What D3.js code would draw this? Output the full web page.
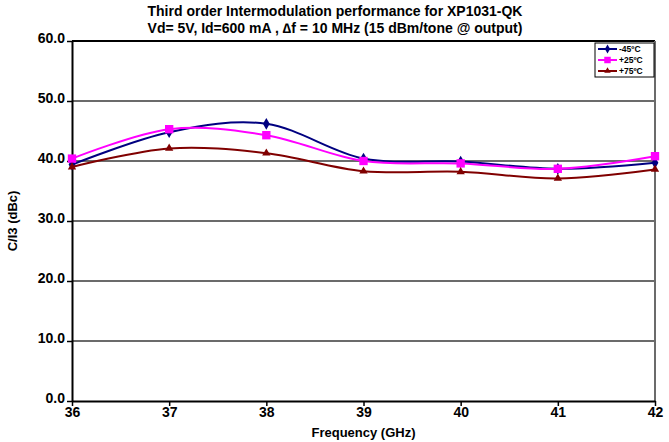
<!DOCTYPE html>
<html>
<head>
<meta charset="utf-8">
<script src="https://cdn.jsdelivr.net/npm/d3@7/dist/d3.min.js"></script>
<style>
  body { margin: 0; background: #fff; }
  text { font-family: "Liberation Sans", Arial, sans-serif; font-weight: bold; }
</style>
</head>
<body>
<svg width="669" height="442"></svg>
<script>
// data
var freqs = [36, 37, 38, 39, 40, 41, 42];
var tempLabels = ["-45ºC", "+25ºC", "+75ºC"];
var minus45 = [39.4, 44.8, 46.2, 40.4, 39.9, 38.7, 39.7];
var plus25 = [40.4, 45.3, 44.3, 40.0, 39.6, 38.7, 40.8];
var plus75 = [39.0, 42.1, 41.3, 38.3, 38.2, 37.1, 38.6];
var yTicks = [0, 10, 20, 30, 40, 50, 60];

var series = [
  { name: tempLabels[0], values: minus45, color: "#000080", symbol: d3.symbolDiamond, size: 40 },
  { name: tempLabels[1], values: plus25, color: "#ff00ff", symbol: d3.symbolSquare, size: 70 },
  { name: tempLabels[2], values: plus75, color: "#800000", symbol: d3.symbolTriangle, size: 30 }
];

var margin = {top: 41, right: 14, bottom: 41, left: 72};
var svg = d3.select("svg");
var width = +svg.attr("width") - margin.left - margin.right,
    height = +svg.attr("height") - margin.top - margin.bottom;

var g = svg.append("g").attr("transform", "translate(" + margin.left + "," + margin.top + ")");

var x = d3.scaleLinear().domain([36, 42]).range([0, width]);
var y = d3.scaleLinear().domain([0, 60]).range([height, 0]);

// gridlines
g.selectAll(".grid")
  .data(yTicks.filter(function(d) { return d > 0 && d < 60; }))
  .enter().append("line")
  .attr("x1", 0).attr("x2", width)
  .attr("y1", function(d) { return y(d); })
  .attr("y2", function(d) { return y(d); })
  .attr("stroke", "#6b6b6b")
  .attr("stroke-width", 2);

// frame: top black, right gray
g.append("line").attr("x1", 0).attr("x2", width).attr("y1", 0).attr("y2", 0)
  .attr("stroke", "#000").attr("stroke-width", 2);
g.append("line").attr("x1", width).attr("x2", width).attr("y1", 0).attr("y2", height)
  .attr("stroke", "#6b6b6b").attr("stroke-width", 2);

// axes
var xAxis = g.append("g")
  .attr("transform", "translate(0," + height + ")")
  .call(d3.axisBottom(x).tickValues(freqs).tickFormat(d3.format("d")).tickSize(5).tickSizeOuter(0));
var yAxis = g.append("g")
  .call(d3.axisLeft(y).tickValues(yTicks).tickFormat(d3.format(".1f")).tickSize(5).tickSizeOuter(0));

[xAxis, yAxis].forEach(function(a) {
  a.select(".domain").attr("stroke", "#000").attr("stroke-width", 2);
  a.selectAll(".tick line").attr("stroke", "#000").attr("stroke-width", 1.5);
  a.selectAll("text").attr("fill", "#000").style("font-size", "14px");
});
xAxis.selectAll("text").attr("dy", "0.6em");
yAxis.selectAll("text").attr("x", -7).attr("dy", "0.1em");

// lines
var line = d3.line()
  .curve(d3.curveCardinal.tension(0))
  .x(function(d, i) { return x(freqs[i]); })
  .y(function(d) { return y(d); });

series.forEach(function(s) {
  g.append("path")
    .datum(s.values)
    .attr("fill", "none")
    .attr("stroke", s.color)
    .attr("stroke-width", 2)
    .attr("d", line);
  g.selectAll(".pt")
    .data(s.values)
    .enter().append("path")
    .attr("transform", function(d, i) { return "translate(" + x(freqs[i]) + "," + y(d) + ")"; })
    .attr("d", d3.symbol().type(s.symbol).size(s.size))
    .attr("fill", s.color);
});

// title
svg.append("text").attr("x", 335).attr("y", 16).attr("text-anchor", "middle")
  .style("font-size", "14px").text("Third order Intermodulation performance for XP1031-QK");
svg.append("text").attr("x", 335).attr("y", 33).attr("text-anchor", "middle")
  .style("font-size", "14px").text("Vd= 5V, Id=600 mA ,  \u2206f = 10 MHz (15 dBm/tone @ output)");

// axis titles
svg.append("text").attr("x", margin.left + width / 2).attr("y", 437).attr("text-anchor", "middle")
  .style("font-size", "13px").text("Frequency (GHz)");
svg.append("text").attr("transform", "translate(17," + (margin.top + height / 2) + ") rotate(-90)")
  .attr("text-anchor", "middle").style("font-size", "13px").text("C/I3 (dBc)");

// legend
var lg = svg.append("g").attr("transform", "translate(595,43)");
lg.append("rect").attr("width", 59).attr("height", 34)
  .attr("fill", "#fff").attr("stroke", "#000").attr("stroke-width", 1);
series.forEach(function(s, i) {
  var row = lg.append("g").attr("transform", "translate(0," + (6 + i * 11) + ")");
  row.append("line").attr("x1", 3).attr("x2", 22).attr("stroke", s.color).attr("stroke-width", 2);
  row.append("path").attr("transform", "translate(12.5,0)")
    .attr("d", d3.symbol().type(s.symbol).size(s.size * 0.6)).attr("fill", s.color);
  row.append("text").attr("x", 24).attr("dy", "0.35em").style("font-size", "8.5px").text(s.name);
});
</script>
</body>
</html>
